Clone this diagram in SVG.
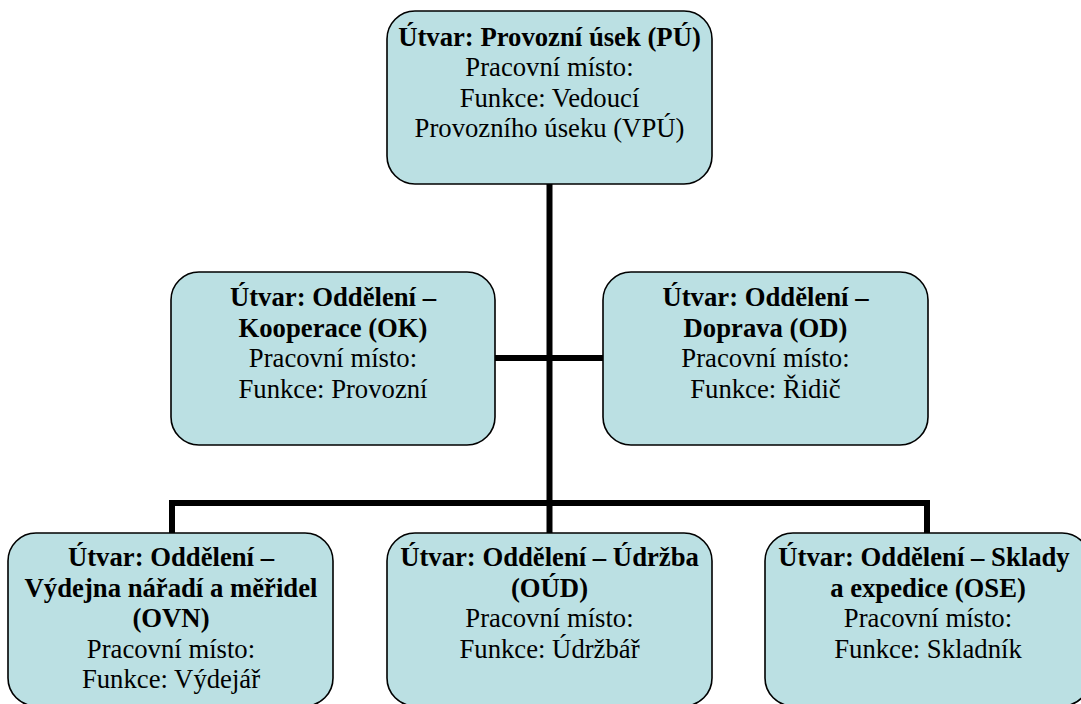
<svg xmlns="http://www.w3.org/2000/svg" width="1081" height="704" viewBox="0 0 1081 704">
  <style>
    .box { fill: #BBE0E3; stroke: #000; stroke-width: 1.6; }
    .t { font-size: 26.7px; fill: #000; text-anchor: middle; }
    .b { font-weight: bold; }
    .link { fill: none; stroke: #000; stroke-width: 6; stroke-linecap: butt; }
  </style>
  <rect width="1081" height="704" fill="#fff"/>

  <!-- connectors -->
  <g id="connectors">
    <path class="link" d="M549.5 184 V503"/>
    <path class="link" d="M495 358 H603"/>
    <path class="link" d="M172 533 V503 H927 V533"/>
    <path class="link" d="M549.5 503 V533"/>
  </g>

  <g font-family="Liberation Serif, Times New Roman, DejaVu Serif, serif">
  <!-- top: operations section -->
  <g id="node-pu">
    <rect class="box" x="387" y="11" width="325" height="173" rx="28"/>
    <text class="t b" x="549.5" y="45.5">Útvar: Provozní úsek (PÚ)</text>
    <text class="t" x="549.5" y="76">Pracovní místo:</text>
    <text class="t" x="549.5" y="106.5">Funkce: Vedoucí</text>
    <text class="t" x="549.5" y="137">Provozního úseku (VPÚ)</text>
  </g>

  <!-- middle level -->
  <g id="node-ok">
    <rect class="box" x="171" y="272" width="324" height="173" rx="28"/>
    <text class="t b" x="333" y="306">Útvar: Oddělení –</text>
    <text class="t b" x="333" y="336.5">Kooperace (OK)</text>
    <text class="t" x="333" y="367">Pracovní místo:</text>
    <text class="t" x="333" y="397.5">Funkce: Provozní</text>
  </g>

  <g id="node-od">
    <rect class="box" x="603" y="272" width="325" height="173" rx="28"/>
    <text class="t b" x="765.5" y="306">Útvar: Oddělení –</text>
    <text class="t b" x="765.5" y="336.5">Doprava (OD)</text>
    <text class="t" x="765.5" y="367">Pracovní místo:</text>
    <text class="t" x="765.5" y="397.5">Funkce: Řidič</text>
  </g>

  <!-- bottom level -->
  <g id="node-ovn">
    <rect class="box" x="8" y="533" width="325" height="173" rx="28"/>
    <text class="t b" x="171" y="566">Útvar: Oddělení –</text>
    <text class="t b" x="171" y="596.5">Výdejna nářadí a měřidel</text>
    <text class="t b" x="171" y="627">(OVN)</text>
    <text class="t" x="171" y="657.5">Pracovní místo:</text>
    <text class="t" x="171" y="688">Funkce: Výdejář</text>
  </g>

  <g id="node-oud">
    <rect class="box" x="387" y="533" width="325" height="173" rx="28"/>
    <text class="t b" x="549.5" y="566">Útvar: Oddělení – Údržba</text>
    <text class="t b" x="549.5" y="596.5">(OÚD)</text>
    <text class="t" x="549.5" y="627">Pracovní místo:</text>
    <text class="t" x="549.5" y="657.5">Funkce: Údržbář</text>
  </g>

  <g id="node-ose">
    <rect class="box" x="765" y="533" width="325" height="173" rx="28"/>
    <text class="t b" x="924" y="566">Útvar: Oddělení – Sklady</text>
    <text class="t b" x="928" y="596.5">a expedice (OSE)</text>
    <text class="t" x="928" y="627">Pracovní místo:</text>
    <text class="t" x="928" y="657.5">Funkce: Skladník</text>
  </g>
  </g>
</svg>
